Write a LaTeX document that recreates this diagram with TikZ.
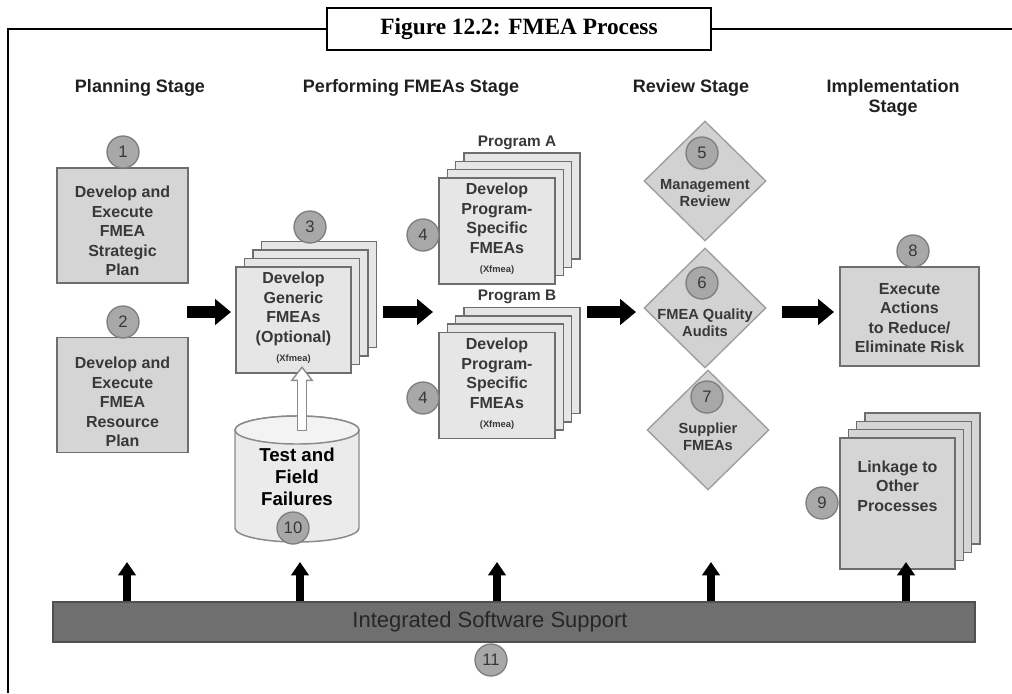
\documentclass[tikz,border=0pt]{standalone}
\usepackage{fontspec}
\setmainfont{Liberation Sans}
\newfontfamily\titlefont{Liberation Serif}
\usetikzlibrary{shapes.geometric,arrows.meta}
\pgfdeclarelayer{pages}
\pgfsetlayers{pages,main}

\definecolor{inktext}{HTML}{383838}
\definecolor{headtext}{HTML}{202020}
\definecolor{edgegray}{HTML}{6E6E6E}
\definecolor{boxgray}{HTML}{D5D5D5}
\definecolor{sheetgray}{HTML}{E6E6E6}
\definecolor{badgegray}{HTML}{A8A8A8}
\definecolor{badgeedge}{HTML}{7E7E7E}
\definecolor{diamgray}{HTML}{D2D2D2}
\definecolor{diamedge}{HTML}{9C9C9C}
\definecolor{drumgray}{HTML}{EBEBEB}
\definecolor{drumtop}{HTML}{F3F3F3}
\definecolor{drumedge}{HTML}{8A8A8A}
\definecolor{barfill}{HTML}{6F6F6F}
\definecolor{baredge}{HTML}{505050}

% three sheets stacked behind node #1, each shifted by #2 up and right, drawn with style #3
\newcommand\sheetstack[3]{%
  \begin{pgfonlayer}{pages}
    \foreach \k in {3,2,1}{
      \path[#3] ([shift={(\k*#2,-\k*#2)}]#1.south west) rectangle ([shift={(\k*#2,-\k*#2)}]#1.north east);
    }
  \end{pgfonlayer}}

\tikzset{
  boxbase/.style={rectangle, draw=edgegray, line width=1.1pt, outer sep=0pt, inner sep=0pt},
  panel/.style={boxbase, fill=boxgray},
  sheetpanel/.style={boxbase, fill=sheetgray},
  boxtext/.style={font=\fontsize{12}{14.6}\selectfont\bfseries, text=inktext, align=center, inner sep=0pt},
  badge/.style={circle, draw=badgeedge, line width=1pt, fill=badgegray, minimum size=24pt, inner sep=0pt,
    font=\fontsize{12.5}{12.5}\selectfont, text=inktext},
  gate/.style={diamond, draw=diamedge, line width=1pt, fill=diamgray, minimum width=91.5pt, minimum height=90pt, inner sep=0pt},
  gatetext/.style={font=\fontsize{11}{13}\selectfont\bfseries, text=inktext, align=center, inner sep=0pt},
  stage/.style={font=\fontsize{13.5}{15}\selectfont\bfseries, text=headtext, align=center},
  proglabel/.style={font=\fontsize{11.5}{12}\selectfont\bfseries, text=inktext},
  flowarrow/.style={line width=9pt, draw=black, -{Triangle[length=12pt,width=19pt]}},
  liftarrow/.style={line width=5.5pt, draw=black, -{Triangle[length=10pt,width=13pt]}},
  frameline/.style={line width=1.5pt, draw=black},
  xfmea/.style={font=\fontsize{7}{8}\selectfont\bfseries},
}

\begin{document}
\begin{tikzpicture}[x=0.75pt,y=-0.75pt]
\useasboundingbox (0,0) rectangle (1012,693);

% caption box and frame
\node[draw=black, line width=1.5pt, fill=white, minimum width=288pt, minimum height=31.5pt, inner sep=0pt,
  font=\titlefont\bfseries\fontsize{17.5}{20}\selectfont] (title) at (519,29) {Figure 12.2: FMEA Process};
\draw[frameline] (title.west) -- (8,29) -- (8,693);
\draw[frameline] (title.east) -- (1012,29);

% stage headings
\node[stage] (s1) at (140,88) {Planning Stage};
\node[stage] (s2) at (411,88) {Performing FMEAs Stage};
\node[stage] (s3) at (691,88) {Review Stage};
\node[stage] (s4) at (893,98) {Implementation\\Stage};

% planning stage
\node[panel, minimum width=98.25pt, minimum height=86.25pt] (b1) at (122.5,225.5) {};
\node[boxtext] (b1t) at (122.5,231) {Develop and\\Execute\\FMEA\\Strategic\\Plan};
\node[badge] (c1) at (123,152) {1};
\node[panel, minimum width=98.25pt, minimum height=86.25pt] (b2) at (122.5,395) {};
\node[boxtext] (b2t) at (122.5,402) {Develop and\\Execute\\FMEA\\Resource\\Plan};
\node[badge] (c2) at (123,322) {2};

% performing FMEAs stage
\node[sheetpanel, minimum width=86.25pt, minimum height=79.5pt] (b3) at (293.5,320) {};
\sheetstack{b3}{8.5}{sheetpanel}
\node[boxtext] (b3t) at (293.5,318) {Develop\\Generic\\FMEAs\\(Optional)\\{\fontsize{7}{8}\selectfont(Xfmea)}};
\node[badge] (c3) at (310,227) {3};

\node[sheetpanel, minimum width=87pt, minimum height=79.5pt] (b4a) at (497,231) {};
\sheetstack{b4a}{8.3}{sheetpanel}
\node[boxtext] (b4at) at (497,229) {Develop\\Program-\\Specific\\FMEAs\\{\fontsize{7}{8}\selectfont(Xfmea)}};
\node[proglabel] (pa) at (517,143) {Program A};
\node[badge] (c4a) at (423,235) {4};

\node[sheetpanel, minimum width=87pt, minimum height=79.5pt] (b4b) at (497,385.5) {};
\sheetstack{b4b}{8.3}{sheetpanel}
\node[boxtext] (b4bt) at (497,384) {Develop\\Program-\\Specific\\FMEAs\\{\fontsize{7}{8}\selectfont(Xfmea)}};
\node[proglabel] (pb) at (517,297) {Program B};
\node[badge] (c4b) at (423,398) {4};

% test and field failures database
\path[fill=drumgray, draw=drumedge, line width=1.1pt]
  (235,430) -- (235,528) arc[start angle=180, end angle=0, x radius=62, y radius=14]
  -- (359,430) arc[start angle=0, end angle=-180, x radius=62, y radius=14] -- cycle;
\path[fill=drumtop, draw=drumedge, line width=1.1pt] (297,430) ellipse[x radius=62, y radius=14];
\node[font=\fontsize{14}{16.5}\selectfont\bfseries, text=black, align=center] (drum) at (297,477) {Test and\\Field\\Failures};
\node[badge] (c10) at (293,528) {10};
\coordinate (feedtail) at (302,431);
\coordinate (feedtip) at (302,366);
\draw[line width=7.5pt, draw=drumedge, -{Triangle[length=11.25pt,width=16.5pt]}] (feedtail) -- (feedtip);
\draw[line width=5.3pt, draw=white, -{Triangle[length=8.3pt,width=12.2pt]}, shorten >=1.9pt, shorten <=1.1pt] (feedtail) -- (feedtip);

% review stage
\node[gate] (d5) at (705,181) {};
\node[gatetext] (d5t) at (705,193) {Management\\Review};
\node[badge] (c5) at (702,153) {5};
\node[gate] (d6) at (705,308) {};
\node[gatetext] (d6t) at (705,323) {FMEA Quality\\Audits};
\node[badge] (c6) at (702,283) {6};
\node[gate] (d7) at (708,430) {};
\node[gatetext] (d7t) at (708,437) {Supplier\\FMEAs};
\node[badge] (c7) at (707,397) {7};

% implementation stage
\node[panel, minimum width=104.25pt, minimum height=74.25pt] (b8) at (909.5,316.5) {};
\node[boxtext] (b8t) at (909.5,318) {Execute\\Actions\\to Reduce/\\Eliminate Risk};
\node[badge] (c8) at (913,251) {8};

\node[panel, minimum width=86.25pt, minimum height=98.25pt] (b9) at (897.5,503.5) {};
\sheetstack{b9}{8.3}{panel}
\node[boxtext] (b9t) at (897.5,486) {Linkage to\\Other\\Processes};
\node[badge] (c9) at (822,503) {9};

% flow between the stages
\coordinate (a1s) at (187,312); \coordinate (a1e) at (231,312);
\coordinate (a2s) at (383,312); \coordinate (a2e) at (433,312);
\coordinate (a3s) at (587,312); \coordinate (a3e) at (636,312);
\coordinate (a4s) at (782,312); \coordinate (a4e) at (834,312);
\draw[flowarrow] (a1s) -- (a1e);
\draw[flowarrow] (a2s) -- (a2e);
\draw[flowarrow] (a3s) -- (a3e);
\draw[flowarrow] (a4s) -- (a4e);

% software support bar
\node[rectangle, fill=barfill, draw=baredge, line width=1pt, minimum width=691.5pt, minimum height=30pt, inner sep=0pt] (bar) at (514,622) {};
\node[font=\fontsize{16.5}{18}\selectfont, text=black!85] (bartext) at (490,622) {Integrated Software Support};
\node[badge] (c11) at (491,660) {11};
\coordinate (u1) at (127,562);
\coordinate (u2) at (300,562);
\coordinate (u3) at (497,562);
\coordinate (u4) at (711,562);
\coordinate (u5) at (906,562);
\foreach \u in {u1,u2,u3,u4,u5}{
  \draw[liftarrow] (bar.north -| \u) -- (\u);
}
\end{tikzpicture}
\end{document}
